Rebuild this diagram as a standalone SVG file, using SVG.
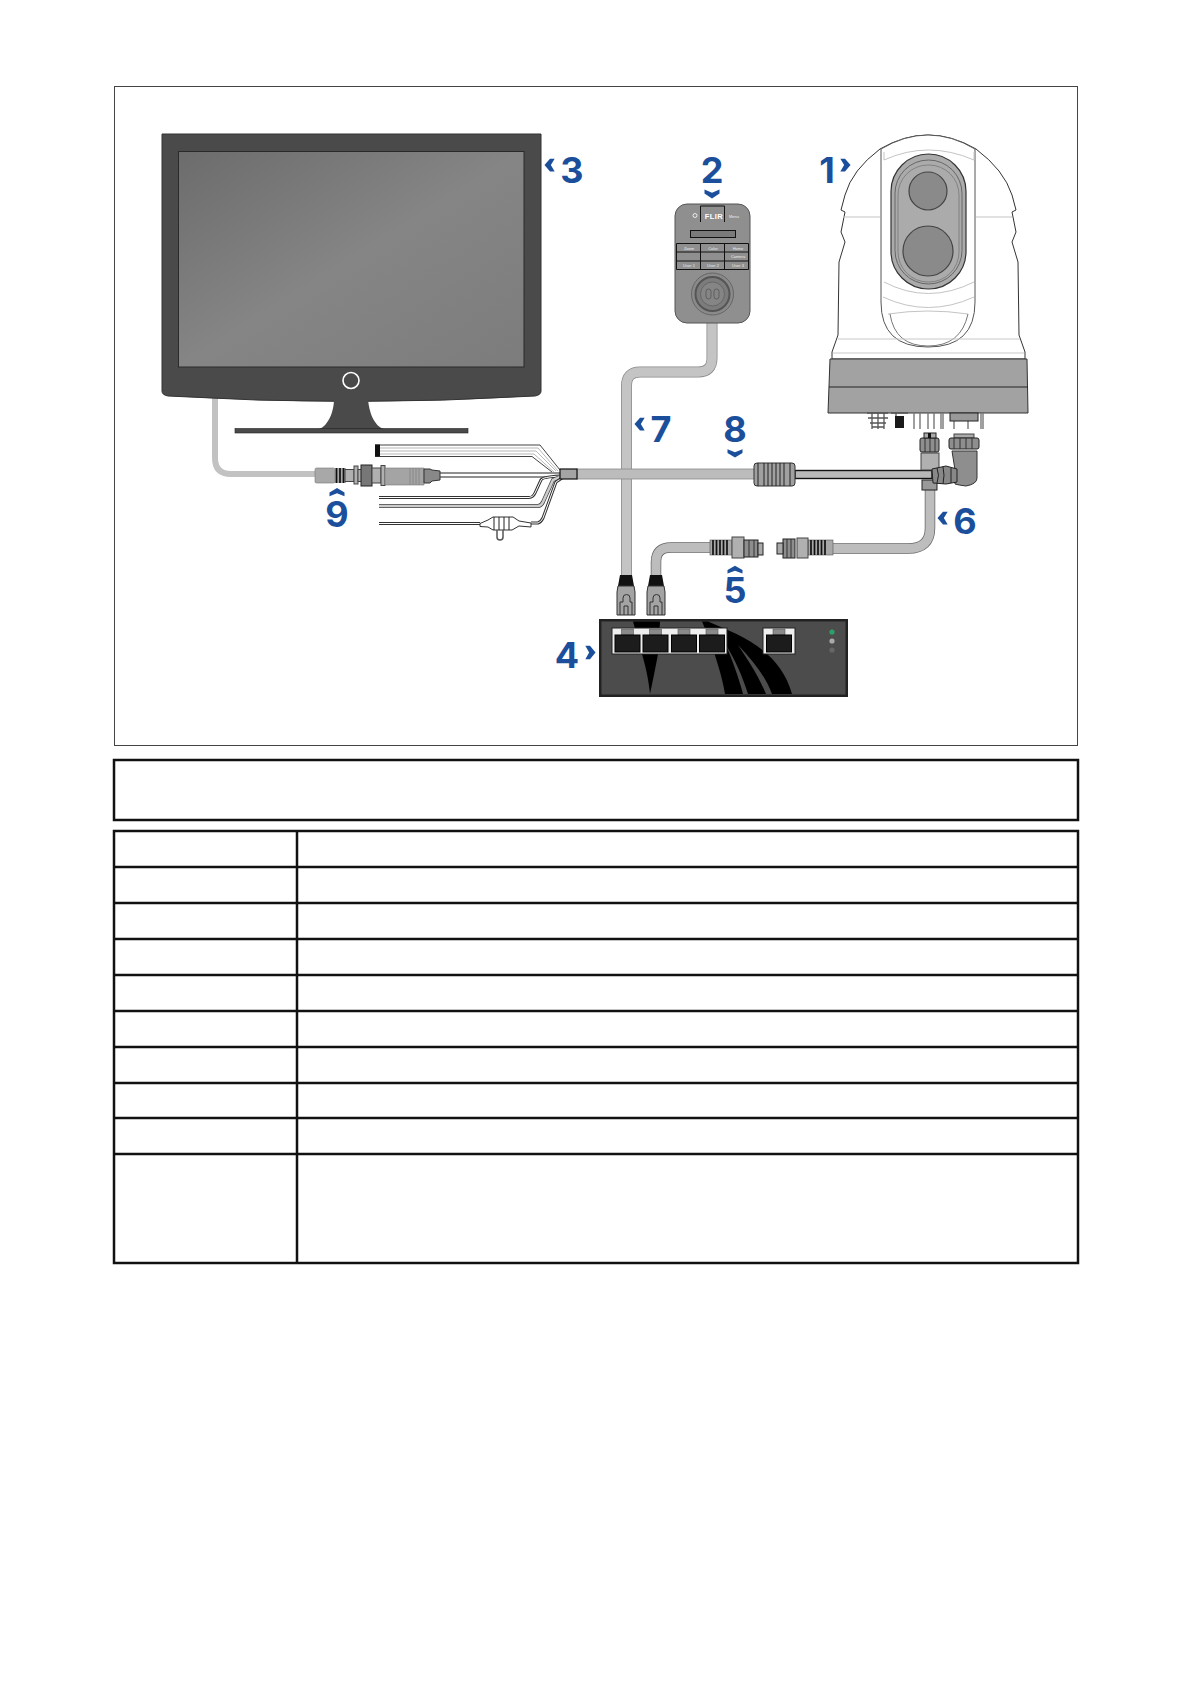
<svg xmlns="http://www.w3.org/2000/svg" width="1191" height="1684" viewBox="0 0 1191 1684">
<style>
.lbl{font-family:"Inter","Liberation Sans",sans-serif;font-weight:700;font-size:35px;fill:#1b4f9c;text-anchor:middle}
.chev{fill:#1b4f9c}
.line{fill:none;stroke:#c8c8c8;stroke-width:1}
.tb{fill:none;stroke:#111;stroke-width:2.5}
.conn{fill:#b0b0b0;stroke:#444;stroke-width:1}
.nut{fill:#8e8e8e;stroke:#222;stroke-width:1}
.key{font-family:"Liberation Sans",sans-serif;font-size:4px;fill:#eee;text-anchor:middle}
.stripe{fill:none;stroke:#111;stroke-width:1.700}
</style>
<defs>
<linearGradient id="scr" x1="0" y1="0" x2="1" y2="1"><stop offset="0" stop-color="#6c6c6c"/><stop offset="0.5" stop-color="#858585"/><stop offset="1" stop-color="#7c7c7c"/></linearGradient>
<path id="chevron" class="chev" d="M-5.500 -7.500 L0 -7.500 L6.500 0 L0 7.500 L-5.500 7.500 L-1 0 Z"/>
<g id="rj45">
<path d="M-6 -11 L6 -11 L8 0 L-8 0 Z" fill="#111"/>
<path d="M-8 0 H8 L9 6 V29 H-9 V6 Z" fill="#a4a4a4" stroke="#333"/>
<path d="M-6 29 V16 H-3 V12 A3.500 3.500 0 0 1 4 12 V16 H6 V29 M-2 29 V20 H2 V29" fill="none" stroke="#333"/>
</g>
<g id="swport">
<rect x="-6" y="-11" width="12" height="6" fill="#8a8a8a" stroke="#555" stroke-width=".6"/>
<rect x="-12.500" y="-5" width="25" height="17" fill="#1c1c1c" stroke="#000"/>
</g>
</defs>
<rect width="1191" height="1684" fill="#fff"/>
<rect id="frame" x="114.500" y="86.500" width="963" height="659" fill="#fff" stroke="#444" stroke-width="1"/>

<g id="connectors">
<path d="M215 398 V458 Q215 474 231 474 H316" fill="none" stroke="#c2c2c2" stroke-width="6"/>
<g fill="none">
<path d="M712 322 V358 Q712 372 698 372 H640 Q626.500 372 626.500 386 V576" stroke="#8a8a8a" stroke-width="11"/>
<path d="M712 322 V358 Q712 372 698 372 H640 Q626.500 372 626.500 386 V576" stroke="#c4c4c4" stroke-width="9.500"/>
<path d="M656 576 V562 Q656 547.500 671 547.500 H711" stroke="#666" stroke-width="10.500"/>
<path d="M656 576 V562 Q656 547.500 671 547.500 H711" stroke="#bdbdbd" stroke-width="9"/>
<path d="M930 488 V528 Q930 548.500 908 548.500 H832" stroke="#666" stroke-width="10.500"/>
<path d="M930 488 V528 Q930 548.500 908 548.500 H832" stroke="#bdbdbd" stroke-width="9"/>
<rect x="577" y="469" width="178" height="10" fill="#bcbcbc" stroke="#8a8a8a" stroke-width=".8"/>
<rect x="795" y="470.500" width="137" height="8" fill="#b8b8b8" stroke="#111" stroke-width="1.400"/>
<path d="M440 473 H560 M440 477 H560" stroke="#222"/>
<path d="M375 448 H538 L558 471 M375 451 H536 L556 471 M375 454 H534 L554 472" stroke="#999" stroke-width=".7"/>
<path d="M375 445 H540 L560 470 M375 456.500 H532 L552 472" stroke="#444" stroke-width="1"/>
<path d="M379 497.500 H529 Q533 497.500 535 493 L541 480 Q542 477 560 476" stroke="#333" stroke-width="3"/>
<path d="M379 497.500 H529 Q533 497.500 535 493 L541 480 Q542 477 560 476" stroke="#fff" stroke-width="1"/>
<path d="M379 506 H538 Q541 506 543 502 L553 480 L560 477" stroke="#444" stroke-width="4"/>
<path d="M379 506 H538 Q541 506 543 502 L553 480 L560 477" stroke="#ccc" stroke-width="2.500"/>
<path d="M379 523.500 H480 M531 523 H538 Q541 522 543 518 L556 482 L562 478" stroke="#333" stroke-width="3"/>
<path d="M379 523.500 H480 M531 523 H538 Q541 522 543 518 L556 482 L562 478" stroke="#fff" stroke-width="1"/>
</g>
</g>

<g id="n3">
<path d="M162 134 H541 V391 Q541 395 535 396 Q350 407 168 396 Q162 395 162 391 Z" fill="#4a4a4a" stroke="#333"/>
<rect x="178.500" y="151.500" width="345.500" height="215.500" fill="url(#scr)" stroke="#2a2a2a"/>
<circle cx="351" cy="380.500" r="8" fill="#4a4a4a" stroke="#fff" stroke-width="1.600"/>
<path d="M334 399 C334 412 328 426 319 429 H384 C374 426 369 412 368 399 Z" fill="#4a4a4a"/>
<rect x="235" y="428.500" width="233" height="4.500" fill="#4a4a4a" stroke="#222" stroke-width=".6"/>
<use href="#chevron" transform="translate(550 165) scale(-.85 .85)"/>
<text class="lbl" transform="translate(572 183) scale(1.030 1)">3</text>
</g>

<g id="n2">
<rect x="675" y="204" width="75" height="119" rx="12" fill="#8f8f8f" stroke="#555"/>
<path d="M700.500 222 V206 H724.500 V222" fill="none" stroke="#111"/>
<text x="714" y="219" font-family="Liberation Sans,sans-serif" font-size="7.500" font-weight="700" fill="#fff" text-anchor="middle" letter-spacing=".4">FLIR</text>
<text class="key" x="734" y="218">Menu</text>
<circle cx="695" cy="215.500" r="2" fill="none" stroke="#fff" stroke-width=".8"/>
<rect x="690.500" y="230.500" width="45" height="7" fill="#7a7a7a" stroke="#111"/>
<path d="M676.500 243.500 H748.500 V269.500 H676.500 Z M676.500 252 H748.500 M676.500 261 H748.500 M700.500 243.500 V269.500 M724.500 243.500 V269.500" fill="none" stroke="#111"/>
<text class="key" x="689" y="249.500">Zoom</text><text class="key" x="713" y="249.500">Color</text><text class="key" x="738" y="249.500">Home</text>
<text class="key" x="738" y="258">Camera</text>
<text class="key" x="689" y="267">User 1</text><text class="key" x="713" y="267">User 2</text><text class="key" x="738" y="267">User 3</text>
<circle cx="712.500" cy="294" r="21" fill="#8a8a8a" stroke="#666"/>
<circle cx="712.500" cy="294" r="17" fill="#7c7c7c" stroke="#555" stroke-width="2"/>
<circle cx="712.500" cy="294" r="12" fill="#858585" stroke="#666"/>
<rect x="706" y="289" width="5" height="10" rx="2.500" fill="none" stroke="#555" stroke-width=".8"/>
<rect x="714" y="289" width="5" height="10" rx="2.500" fill="none" stroke="#555" stroke-width=".8"/>
<use href="#chevron" transform="translate(712 193.500) rotate(90) scale(.75 1)"/>
<text class="lbl" transform="translate(712 183) scale(1.030 1)">2</text>
</g>

<g id="n1">
<path d="M880 149 Q928 121 976 149 Q1004 170 1012 195 L1016 210 L1012 212 L1016 232 L1012 242 L1018 262 L1019 335 L1025 352 V359 H832 V352 L838 335 L839 262 L845 242 L841 232 L845 212 L841 210 L845 195 Q852 170 880 149 Z" fill="#fff" stroke="#333"/>
<path d="M881 149 Q928 121 975 149 V302 Q975 347 928 347 Q881 347 881 302 Z" fill="#fff" stroke="#555"/>
<path d="M884 152 V160 Q928 140 974 160 V152 M884 282 Q928 305 974 282 M883 297 Q928 318 974 297 M888 314 Q928 308 968 314 M843 217 H880 M976 217 H1012" fill="none" stroke="#c4c4c4"/>
<path d="M890 314 Q895 346 928 346 Q961 346 968 314" fill="none" stroke="#777"/>
<path d="M838 339 H1020 M833 353 H1024" class="line"/>
<rect x="891" y="154" width="75" height="135" rx="37.500" fill="#ababab" stroke="#333" stroke-width="1.200"/>
<rect x="895" y="160" width="67" height="124" rx="33.500" fill="none" stroke="#666" stroke-width="1"/>
<rect x="898" y="165" width="61" height="117" rx="30" fill="none" stroke="#777" stroke-width=".8"/>
<circle cx="928" cy="191" r="19" fill="#8a8a8a" stroke="#444" stroke-width="1.200"/>
<circle cx="928" cy="251" r="25" fill="#8a8a8a" stroke="#444" stroke-width="1.200"/>
<path d="M830 359 H1027 L1028 413 H828 Z" fill="#a2a2a2" stroke="#333"/>
<path d="M829 387 H1028" stroke="#222" fill="none"/>
<path d="M867 413 H888 M868 418 H888 M870 423 H886 M872 427 H884 M872 413 V429 M878 413 V429 M884 413 V429" stroke="#555" stroke-width="1.300" fill="none"/>
<path d="M891 413 H908 M896 413 V420" stroke="#555" stroke-width="1.300" fill="none"/>
<rect x="895" y="416" width="9" height="12" fill="#1a1a1a"/>
<path d="M914 413 V429 M920 413 V429 M928 413 V429 M934 413 V429 M941 413 V429 M943 413 V429 M954 421 V429 M968 421 V429 M981 413 V429 M983 413 V429" stroke="#777" stroke-width="1.400" fill="none"/>
<rect x="950" y="413" width="28" height="8" fill="#999" stroke="#222"/>
<use href="#chevron" transform="translate(845 165) scale(.85 .85)"/>
<text class="lbl" transform="translate(827 183) scale(1.030 1)">1</text>
</g>

<g id="n9">
<rect x="315" y="468" width="20" height="15" rx="1.500" fill="#a8a8a8" stroke="#777" stroke-width=".6"/>
<rect x="335" y="468" width="11" height="15" fill="#a8a8a8"/>
<path class="stripe" d="M336.500 468 V483 M340 468 V483 M343.500 468 V483"/>
<rect x="345" y="469.500" width="9" height="12" class="conn"/>
<rect x="354" y="466" width="4" height="18" class="conn"/>
<rect x="358" y="469.500" width="4" height="12" class="conn"/>
<rect x="361" y="465" width="11" height="21" fill="#777" stroke="#222"/>
<rect x="372" y="468" width="9" height="15" class="conn"/>
<rect x="381" y="465.500" width="4" height="20" class="conn"/>
<path d="M385 468 H424 V485 H385 Z" fill="#a4a4a4" stroke="#777" stroke-width=".6"/>
<path d="M410 468 V485 M413 468 V485 M416 468 V485 M419 468 V485" stroke="#888" stroke-width="1"/>
<path d="M424 469 H430 L432 470 L440 471 V480 L432 481 L430 483 H424 Z" fill="#888" stroke="#333"/>
<use href="#chevron" transform="translate(337 492.500) rotate(-90) scale(.7 1)"/>
<text class="lbl" transform="translate(337 527) scale(1.030 1)">9</text>
</g>

<g id="n-splitter">
<rect x="375" y="444.500" width="5" height="12" fill="#111"/>
<rect x="560" y="469" width="17" height="10" fill="#a4a4a4" stroke="#111" stroke-width="1.200"/>
<path d="M480 523.500 L488 520 L493 517 H513 L519 521 L531 523 V527 L519 526 L512 530 H493 L488 527 L480 526.500 Z" fill="#fff" stroke="#333"/>
<path d="M494 517 V530 M499 517 V530 M504 517 V530 M509 517 V530" stroke="#222"/>
<path d="M503 530 V537 A3 3 0 0 1 497 537 V530" fill="none" stroke="#555" stroke-width="1.500"/>
</g>

<g id="n8">
<rect x="754" y="463" width="41" height="23" rx="3" fill="#a0a0a0" stroke="#333"/>
<path d="M758 463 V486 M764 463 V486 M768 463 V486 M772 463 V486 M776 463 V486 M780 463 V486 M784 463 V486 M790 463 V486" stroke="#222" stroke-width="1"/>
<use href="#chevron" transform="translate(735 453) rotate(90) scale(.7 1)"/>
<text class="lbl" transform="translate(735 441.500) scale(1.030 1)">8</text>
</g>

<g id="n6">
<rect x="921" y="453" width="18" height="17" class="conn"/>
<rect x="922" y="480" width="15" height="10" fill="#999" stroke="#222"/>
<rect x="920" y="438" width="19" height="14" rx="2" class="nut"/>
<path d="M925 438 V452 M930 438 V452 M935 438 V452" stroke="#333"/>
<rect x="924" y="433" width="12" height="5" fill="#aaa" stroke="#222"/>
<rect x="928" y="433" width="3" height="5" fill="#111"/>
<rect x="954" y="434" width="20" height="4" fill="#aaa" stroke="#444"/>
<rect x="949" y="438" width="30" height="11" rx="2" class="nut"/>
<path d="M954 438 V449 M960 438 V449 M966 438 V449 M972 438 V449" stroke="#333"/>
<path d="M952 451 H977 V478 Q977 484 966 486 Q958 485 955 484 V470 Z" fill="#8e8e8e" stroke="#333"/>
<path d="M932 469 L946 466 L957 469 V482 L946 484 L933 483 Z" fill="#888" stroke="#222"/>
<path d="M937 468 Q940 475 937 483 M943 467 Q945 475 943 484 M951 468 V483" fill="none" stroke="#222"/>
<use href="#chevron" transform="translate(943 518) scale(-.85 .85)"/>
<text class="lbl" transform="translate(965 534) scale(1.030 1)">6</text>
</g>

<g id="n5">
<rect x="710" y="540" width="22" height="15" fill="#a8a8a8" stroke="#555" stroke-width=".6"/>
<path class="stripe" d="M713 540 V555 M716.500 540 V555 M720 540 V555 M723.500 540 V555 M727 540 V555"/>
<rect x="732" y="537" width="12" height="21" class="conn"/>
<rect x="744" y="540" width="14" height="17" class="nut"/>
<path d="M749 540 V557 M754 540 V557" stroke="#333"/>
<rect x="758" y="543" width="5" height="12" fill="#aaa" stroke="#222"/>
<rect x="808" y="540" width="25" height="15" fill="#a8a8a8" stroke="#555" stroke-width=".6"/>
<path class="stripe" d="M811 540 V555 M814.500 540 V555 M818 540 V555 M821.500 540 V555 M825 540 V555"/>
<rect x="797" y="538" width="11" height="20" class="conn"/>
<rect x="783" y="539" width="12" height="19" class="nut"/>
<path d="M787 539 V558 M791 539 V558" stroke="#333"/>
<rect x="777" y="543" width="6" height="11" fill="#aaa" stroke="#222"/>
<use href="#chevron" transform="translate(735 570) rotate(-90) scale(.65 1)"/>
<text class="lbl" transform="translate(735 603) scale(1.030 1)">5</text>
</g>

<g id="n4">
<rect x="599.500" y="619.500" width="248" height="77" fill="#222" stroke="#222"/>
<rect x="601.500" y="621.500" width="244" height="73" fill="#4c4c4c"/>
<path d="M633 621.500 H660 L658 654 C655 670 652 685 650 694 C648 675 645 665 642 654 Z" fill="#000"/>
<path d="M702 621.500 H708 C740 635 780 650 792 694 H725 C722 675 716 660 712 645 Z" fill="#000"/>
<path d="M726 645 C735 660 742 675 748 694 H743 C738 675 732 660 726 645 Z M738 645 C752 660 765 675 772 694 H766 C758 675 748 660 738 645 Z" fill="#4c4c4c"/>
<rect x="612" y="628" width="115" height="26" fill="#eee" stroke="#222"/>
<use href="#swport" transform="translate(627.500 640)"/>
<use href="#swport" transform="translate(655.500 640)"/>
<use href="#swport" transform="translate(684 640)"/>
<use href="#swport" transform="translate(712 640)"/>
<rect x="763" y="628" width="32" height="26" fill="#eee" stroke="#222"/>
<use href="#swport" transform="translate(779 640)"/>
<circle cx="832" cy="632" r="2.600" fill="#2e9e6b"/>
<circle cx="832" cy="641" r="2.600" fill="#aaa"/>
<circle cx="832" cy="650" r="2.600" fill="#666"/>
<use href="#chevron" transform="translate(590 652.500) scale(.85 .9)"/>
<text class="lbl" transform="translate(567 668) scale(1.030 1)">4</text>
</g>

<g id="n7">
<use href="#rj45" transform="translate(626 586)"/>
<use href="#rj45" transform="translate(656 586)"/>
<use href="#chevron" transform="translate(640 424) scale(-.85 .85)"/>
<text class="lbl" transform="translate(661 441.500) scale(1.030 1)">7</text>
</g>

<g id="table">
<rect class="tb" x="114" y="760" width="964" height="60"/>
<rect class="tb" x="114" y="831" width="964" height="432"/>
<path class="tb" d="M297 831 V1263 M114 867 H1078 M114 903 H1078 M114 939 H1078 M114 975 H1078 M114 1011 H1078 M114 1047 H1078 M114 1083 H1078 M114 1118 H1078 M114 1154 H1078"/>
</g>
</svg>
